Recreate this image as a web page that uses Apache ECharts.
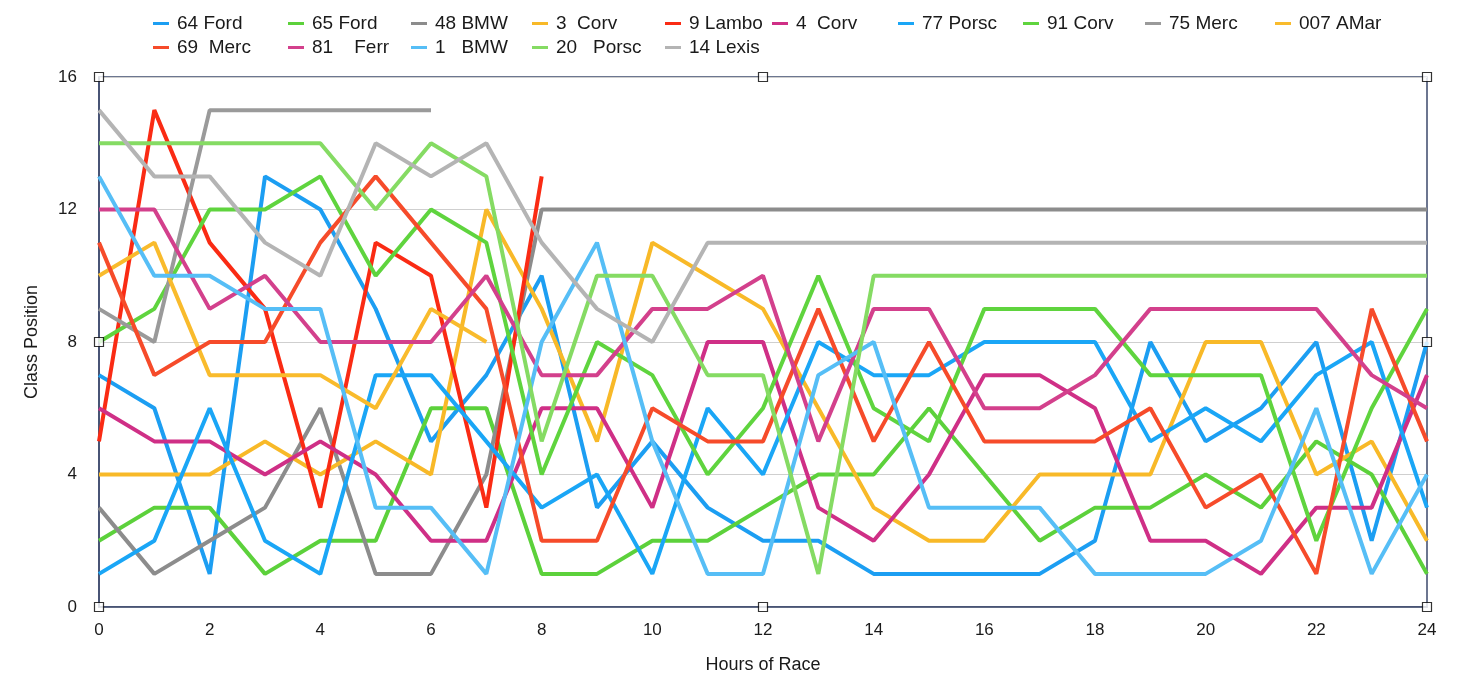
<!DOCTYPE html>
<html>
<head>
<meta charset="utf-8">
<script src="https://cdn.jsdelivr.net/npm/echarts@6/dist/echarts.min.js"></script>
<style>
  html, body { margin: 0; padding: 0; background: #fff; }
  #chart { width: 1459px; height: 675px; }
</style>
</head>
<body>
<div id="chart"></div>
<script>
// hours of the race (x values)
const hours = [0,1,2,3,4,5,6,7,8,9,10,11,12,13,14,15,16,17,18,19,20,21,22,23,24];

// class position per hour
const ford64  = [7,6,1,13,12,9,5,7,10,3,5,3,2,2,1,1,1,1,2,8,5,6,8,2,8];
const ford65  = [2,3,3,1,2,2,6,6,1,1,2,2,3,4,4,6,4,2,3,3,4,3,5,4,1];
const bmw48   = [3,1,2,3,6,1,1,4,12,12,12,12,12,12,12,12,12,12,12,12,12,12,12,12,12];
const corv3   = [4,4,4,5,4,5,4,12,9,5,11,10,9,6,3,2,2,4,4,4,8,8,4,5,2];
const lambo9  = [5,15,11,9,3,11,10,3,13];
const corv4   = [6,5,5,4,5,4,2,2,6,6,3,8,8,3,2,4,7,7,6,2,2,1,3,3,7];
const porsc77 = [1,2,6,2,1,7,7,5,3,4,1,6,4,8,7,7,8,8,8,5,6,5,7,8,3];
const corv91  = [8,9,12,12,13,10,12,11,4,8,7,4,6,10,6,5,9,9,9,7,7,7,2,6,9];
const merc75  = [9,8,15,15,15,15,15];
const amar007 = [10,11,7,7,7,6,9,8];
const merc69  = [11,7,8,8,11,13,11,9,2,2,6,5,5,9,5,8,5,5,5,6,3,4,1,9,5];
const ferr81  = [12,12,9,10,8,8,8,10,7,7,9,9,10,5,9,9,6,6,7,9,9,9,9,7,6];
const bmw1    = [13,10,10,9,9,3,3,1,8,11,5,1,1,7,8,3,3,3,1,1,1,2,6,1,4];
const porsc20 = [14,14,14,14,14,12,14,13,5,10,10,7,7,1,10,10,10,10,10,10,10,10,10,10,10];
const lexis14 = [15,13,13,11,10,14,13,14,11,9,8,11,11,11,11,11,11,11,11,11,11,11,11,11,11];

const yTicks = [0, 4, 8, 12, 16];
const xTicks = [0, 2, 4, 6, 8, 10, 12, 14, 16, 18, 20, 22, 24];

// selection handles on the plot frame (Numbers style)
const handleX = [0, 12, 24, 0, 24, 0, 12, 24];
const handleY = [16, 16, 16, 8, 8, 0, 0, 0];

const cars = [
  { name: '64 Ford',     values: ford64,  color: '#1c9ef2' },
  { name: '65 Ford',     values: ford65,  color: '#5cd13b' },
  { name: '48 BMW',      values: bmw48,   color: '#8c8c8c' },
  { name: '3  Corv',     values: corv3,   color: '#f8b928' },
  { name: '9 Lambo',     values: lambo9,  color: '#fa2b14' },
  { name: '4  Corv',     values: corv4,   color: '#cf2f86' },
  { name: '77 Porsc',    values: porsc77, color: '#1aa6f6' },
  { name: '91 Corv',     values: corv91,  color: '#5fd43e' },
  { name: '75 Merc',     values: merc75,  color: '#9a9a9a' },
  { name: '007 AMar',    values: amar007, color: '#f9bb2c' },
  { name: '69  Merc',    values: merc69,  color: '#f64b2a' },
  { name: '81    Ferr',  values: ferr81,  color: '#d3408c' },
  { name: '1   BMW',     values: bmw1,    color: '#56bef6' },
  { name: '20   Porsc',  values: porsc20, color: '#85db63' },
  { name: '14 Lexis',    values: lexis14, color: '#b4b4b4' }
];

// legend is a 10-column table: left edge of each column
const legendCols = [148, 283, 406, 527, 660, 767, 893, 1018, 1140, 1270];

const font = '"Liberation Sans", Arial, Helvetica, sans-serif';

const chart = echarts.init(document.getElementById('chart'), null, { renderer: 'canvas' });

const series = cars.map(c => ({
  name: c.name,
  type: 'line',
  data: c.values.map((v, i) => [hours[i], v]),
  showSymbol: false,
  symbol: 'none',
  lineStyle: { color: c.color, width: 4 },
  itemStyle: { color: c.color },
  z: 3
}));

series.push({
  type: 'scatter',
  data: handleX.map((x, i) => [x, handleY[i]]),
  symbol: 'rect',
  symbolSize: 9,
  itemStyle: { color: '#fff', borderColor: '#000', borderWidth: 1.2 },
  z: 10,
  silent: true
});

// one vertical legend per column: row 1 = cars[0..9], row 2 = cars[10..14]
const legends = legendCols.map((left, col) => {
  const names = [cars[col].name];
  if (cars[col + 10]) names.push(cars[col + 10].name);
  return {
    orient: 'vertical',
    left: left,
    top: 9,
    itemGap: 5,
    itemWidth: 16,
    itemHeight: 3,
    icon: 'rect',
    data: names,
    textStyle: { fontFamily: font, fontSize: 19, color: '#1a1a1a', padding: [0, 0, 0, 3] }
  };
});

chart.setOption({
  animation: false,
  backgroundColor: '#fff',
  legend: legends,
  grid: {
    left: 99, right: 32, top: 77, bottom: 68,
    outerBoundsMode: 'none',
    show: true,
    borderColor: '#3d4a6c',
    borderWidth: 1.5
  },
  xAxis: {
    type: 'value',
    min: xTicks[0],
    max: xTicks[xTicks.length - 1],
    interval: 2,
    name: 'Hours of Race',
    nameLocation: 'middle',
    nameGap: 49,
    nameTextStyle: { fontFamily: font, fontSize: 18, color: '#1a1a1a' },
    axisLine: { show: true, lineStyle: { color: '#3d4a6c', width: 1.5 } },
    axisTick: { show: false },
    splitLine: { show: false },
    axisLabel: { fontFamily: font, fontSize: 17, color: '#1a1a1a', margin: 15 }
  },
  yAxis: {
    type: 'value',
    min: yTicks[0],
    max: yTicks[yTicks.length - 1],
    interval: 4,
    name: 'Class Position',
    nameLocation: 'middle',
    nameGap: 58,
    nameTextStyle: { fontFamily: font, fontSize: 18, color: '#1a1a1a' },
    axisLine: { show: true, lineStyle: { color: '#3d4a6c', width: 1.5 } },
    axisTick: { show: false },
    splitLine: { show: true, lineStyle: { color: '#cfcfcf', width: 1 } },
    axisLabel: { fontFamily: font, fontSize: 17, color: '#1a1a1a', margin: 22 }
  },
  series: series
});
</script>
</body>
</html>
